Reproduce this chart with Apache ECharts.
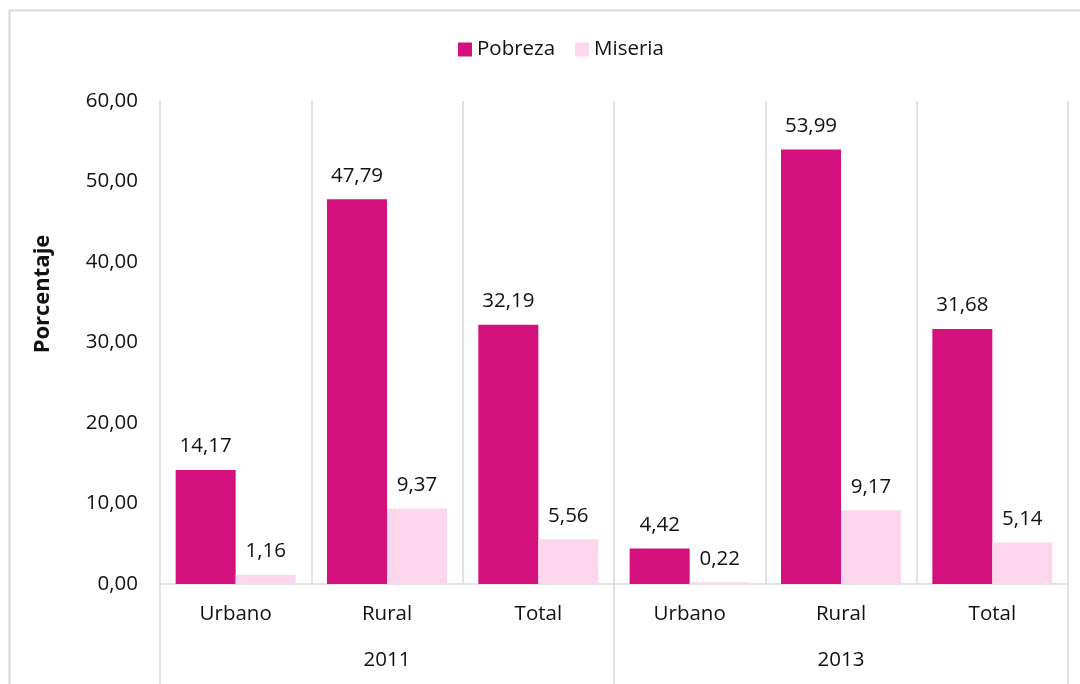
<!DOCTYPE html>
<html>
<head>
<meta charset="utf-8">
<script src="https://cdn.jsdelivr.net/npm/echarts@6/dist/echarts.min.js"></script>
<style>
  html, body { margin: 0; padding: 0; background: #fff; }
  #chart { width: 1080px; height: 684px; }
</style>
</head>
<body>
<div id="chart"></div>
<script>
var categories = ['Urbano', 'Rural', 'Total', 'Urbano', 'Rural', 'Total'];
var years = ['2011', '2013'];
var pobreza = [14.17, 47.79, 32.19, 4.42, 53.99, 31.68];
var miseria = [1.16, 9.37, 5.56, 0.22, 9.17, 5.14];

var font = 'Open Sans';
var txt = '#111111';
var lineCol = '#d9d9d9';
var fs = 20.5;

function fmt(v) {
  return v.toFixed(2).replace('.', ',');
}

var myChart = echarts.init(document.getElementById('chart'));
var option = {
  animation: false,
  textStyle: { fontFamily: font },
  legend: {
    data: ['Pobreza', 'Miseria'],
    left: 453,
    top: 34,
    icon: 'rect',
    itemWidth: 14,
    itemHeight: 14,
    itemGap: 20,
    textStyle: { fontFamily: font, fontSize: fs, color: txt }
  },
  grid: { left: 160, right: 12, top: 101, bottom: 100 },
  graphic: [
    {
      type: 'rect',
      shape: { x: 9.5, y: 10.5, width: 1090, height: 700 },
      style: { fill: 'none', stroke: lineCol, lineWidth: 2 },
      silent: true
    },
    {
      type: 'text',
      x: 43,
      y: 294,
      rotation: Math.PI / 2,
      style: {
        text: 'Porcentaje',
        font: 'bold 22px "Open Sans"',
        fill: txt,
        align: 'center',
        verticalAlign: 'middle'
      }
    }
  ],
  xAxis: [
    {
      type: 'category',
      data: categories,
      axisLine: { show: true, lineStyle: { color: lineCol, width: 1.5 } },
      axisTick: { show: false },
      splitLine: { show: true, lineStyle: { color: lineCol, width: 1.5 } },
      axisLabel: { margin: 20, fontSize: fs, color: txt, fontFamily: font }
    },
    {
      type: 'category',
      data: years,
      position: 'bottom',
      axisLine: { show: false },
      axisTick: { show: true, length: 100, lineStyle: { color: lineCol, width: 1.5 } },
      axisLabel: { margin: 66, fontSize: fs, color: txt, fontFamily: font }
    }
  ],
  yAxis: {
    type: 'value',
    min: 0,
    max: 60,
    interval: 10,
    axisLine: { show: false },
    axisTick: { show: false },
    splitLine: { show: false },
    axisLabel: {
      margin: 22,
      fontSize: fs,
      color: txt,
      fontFamily: font,
      formatter: function (v) { return fmt(v); }
    }
  },
  series: [
    {
      name: 'Pobreza',
      type: 'bar',
      data: pobreza,
      barWidth: 60,
      barGap: '0%',
      itemStyle: { color: '#D4107D' },
      label: {
        show: true,
        position: 'top',
        distance: 13,
        fontSize: fs,
        color: txt,
        fontFamily: font,
        formatter: function (p) { return fmt(p.value); }
      }
    },
    {
      name: 'Miseria',
      type: 'bar',
      data: miseria,
      barWidth: 60,
      barGap: '0%',
      itemStyle: { color: '#FCD6EC' },
      label: {
        show: true,
        position: 'top',
        distance: 13,
        fontSize: fs,
        color: txt,
        fontFamily: font,
        formatter: function (p) { return fmt(p.value); }
      }
    }
  ]
};
myChart.setOption(option);
</script>
</body>
</html>
